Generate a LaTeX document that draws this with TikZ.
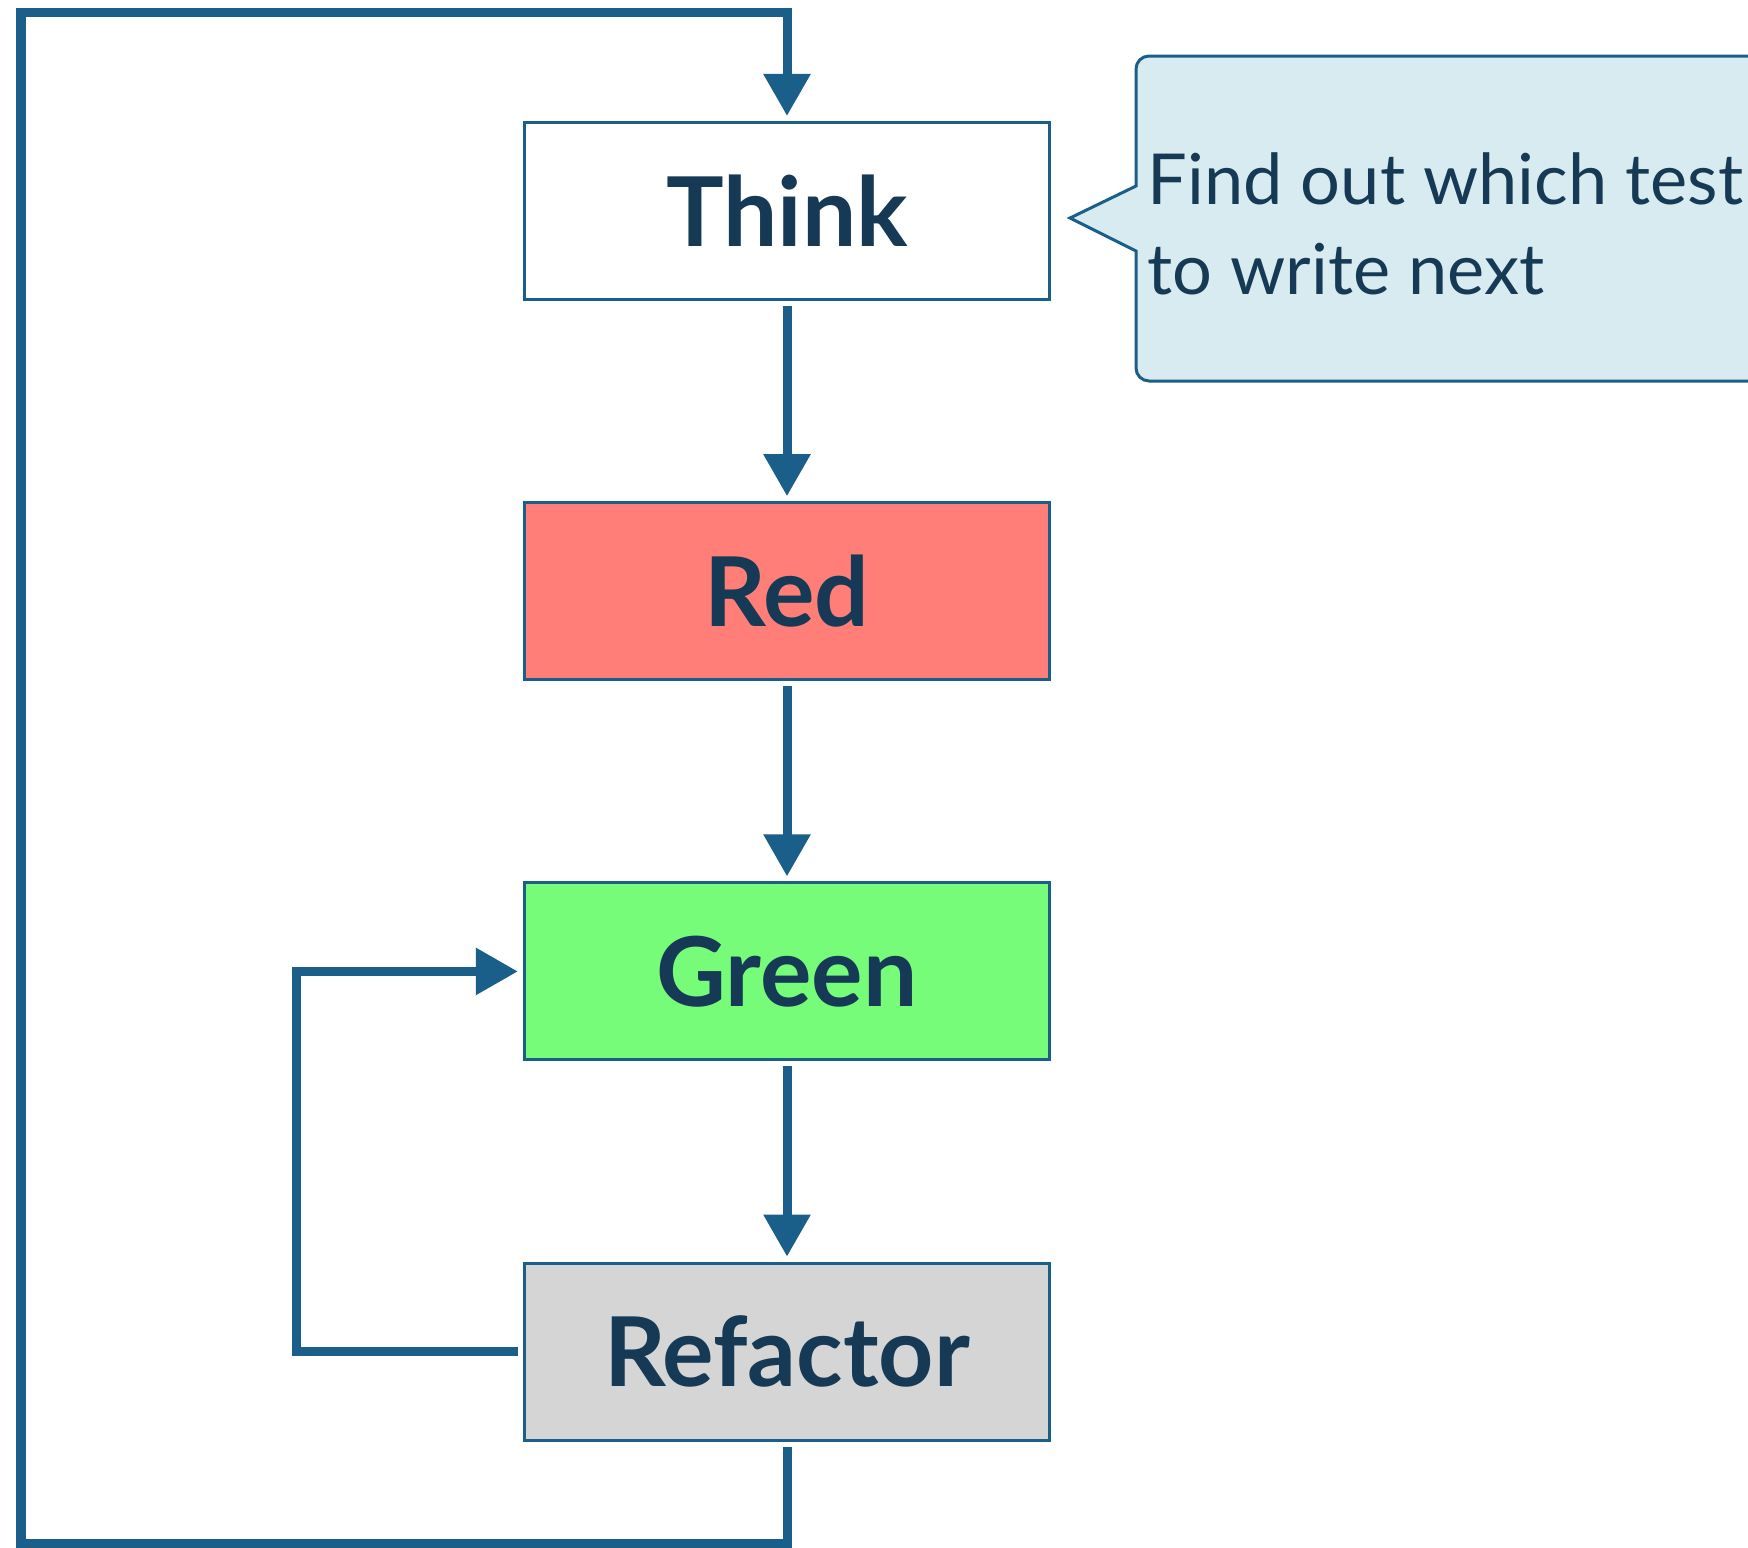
\documentclass[tikz,border=0pt]{standalone}
\usepackage{fontspec}
\setmainfont{Lato}
\usetikzlibrary{positioning,arrows.meta}

\definecolor{lineblue}{HTML}{1A5E8A}
\definecolor{textdark}{HTML}{163A55}
\definecolor{redfill}{HTML}{FF7F78}
\definecolor{greenfill}{HTML}{77FC79}
\definecolor{grayfill}{HTML}{D5D5D5}
\definecolor{notefill}{HTML}{D8EBF1}

\begin{document}
\begin{tikzpicture}[x=0.01cm,y=-0.01cm,
                    stage/.style={draw=lineblue,line width=0.85pt,minimum width=5.25cm,minimum height=1.77cm,
                                  inner sep=0pt,text=textdark,font=\fontsize{27.4}{32}\selectfont\bfseries},
                    flow/.style={draw=lineblue,line width=0.09cm,
                                 -{Triangle[width=0.45cm,length=0.42cm]},shorten <=0.05cm,shorten >=0.05cm},
                    note/.style={draw=lineblue,line width=0.85pt,fill=notefill},
                    node distance=2.0cm]

                    \path[use as bounding box,clip] (0,0) rectangle (1748,1547);

                    % the four steps of the cycle
                    \node[stage] (think) at (787,211) {Think};
                    \node[stage,fill=redfill,below=of think] (red) {Red};
                    \node[stage,fill=greenfill,below=of red] (green) {Green};
                    \node[stage,fill=grayfill,below=of green] (refactor) {Refactor};

                    \draw[flow] (think) -- (red);
                    \draw[flow] (red) -- (green);
                    \draw[flow] (green) -- (refactor);

                    % loops back
                    \coordinate (bottomleft) at (21,1543);
                    \coordinate (topleft) at (21,12);
                    \draw[flow] (refactor.west) -- ++(-226,0) |- (green.west);
                    \draw[flow] (refactor.south) |- (bottomleft) -- (topleft) -| (think.north);

                    % callout
                    \draw[note] (1800,56) [rounded corners=0.13cm] -- (1136,56) [sharp corners] -- (1136,186)
                                -- (1070,218) -- (1136,251) [rounded corners=0.13cm] -- (1136,381) -- (1800,381);
                    \node[anchor=north west,inner sep=0pt,align=left,text=textdark,
                          font=\fontsize{20}{25.6}\selectfont] (notetext) at (1147,152)
                          {Find out which test\\to write next};
                \end{tikzpicture}
\end{document}
